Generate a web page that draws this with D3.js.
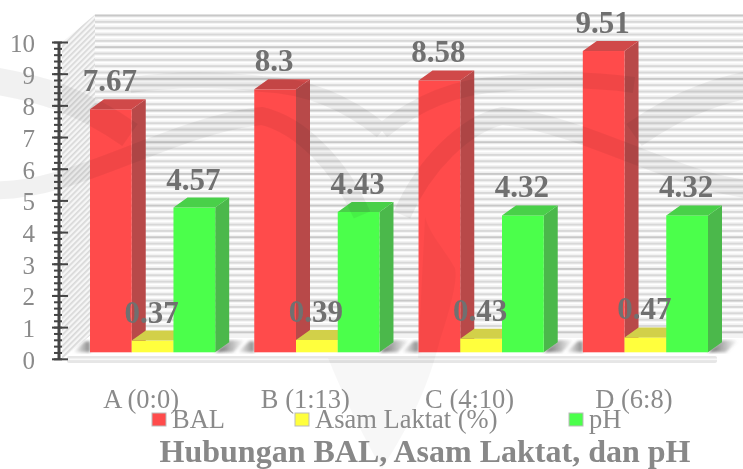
<!DOCTYPE html>
<html>
<head>
<meta charset="utf-8">
<style>
  html, body { margin: 0; padding: 0; background: #fff; }
  svg { display: block; }
  text { font-family: "Liberation Serif", serif; }
</style>
</head>
<body>
<svg id="chart"></svg>
<script src="https://cdn.jsdelivr.net/npm/d3@7/dist/d3.min.js"></script>
<script>
  const categories = ['A (0:0)', 'B (1:13)', 'C (4:10)', 'D (6:8)']
  const bal = [7.67, 8.3, 8.58, 9.51]
  const asamLaktat = [0.37, 0.39, 0.43, 0.47]
  const ph = [4.57, 4.43, 4.32, 4.32]
  const seriesNames = ['BAL', 'Asam Laktat (%)', 'pH']
  const title = 'Hubungan BAL, Asam Laktat, dan pH'

  const width = 743, height = 469

  const colors = [
    {front: '#ff4b4b', side: '#b84848', top: '#d04a4a'},
    {front: '#ffff3c', side: '#c8c83c', top: '#d2d048'},
    {front: '#4bff4b', side: '#4bb84b', top: '#48d048'}
  ]

  const svg = d3.select('#chart').attr('width', width).attr('height', height)
  const defs = svg.append('defs')

  // axis scale, the bars sit 7px above it
  const y = d3.scaleLinear().domain([0, 10]).range([359.3, 42.5])
  const barShift = -7, depth = {x: 14, y: -10}, wall = {x: 95, y: -28}

  const xGroup = d3.scaleBand().domain(categories).range([90, 708]).paddingInner(0.2378).paddingOuter(0).align(0)
  const xSeries = d3.scaleBand().domain(d3.range(3)).range([0, xGroup.bandwidth()])

  // soft edges, the reference is a rescaled bitmap
  defs.append('filter').attr('id', 'soft').append('feGaussianBlur').attr('stdDeviation', 0.45)
  defs.append('filter').attr('id', 'softer').append('feGaussianBlur').attr('stdDeviation', 1.5)

  const hatch = defs.append('pattern').attr('id', 'hatch')
    .attr('width', 4).attr('height', 4)
    .attr('patternUnits', 'userSpaceOnUse')
    .attr('patternTransform', 'rotate(-45)')
  hatch.append('rect').attr('width', 4).attr('height', 4).attr('fill', '#f6f6f6')
  hatch.append('rect').attr('width', 4).attr('height', 1.7).attr('fill', '#d8d8d8')

  const shadow = defs.append('linearGradient').attr('id', 'shadow')
  shadow.append('stop').attr('offset', 0).attr('stop-color', '#666')
  shadow.append('stop').attr('offset', 1).attr('stop-color', '#666').attr('stop-opacity', 0)

  const shadowLeft = defs.append('linearGradient').attr('id', 'shadowLeft')
  shadowLeft.append('stop').attr('offset', 0).attr('stop-color', '#888').attr('stop-opacity', 0)
  shadowLeft.append('stop').attr('offset', 1).attr('stop-color', '#888')

  const plot = svg.append('g').attr('filter', 'url(#soft)')

  // back wall
  const wallTop = y(10) - 28, wallBottom = 338
  plot.append('rect').attr('x', wall.x).attr('y', wallTop)
    .attr('width', width - wall.x).attr('height', wallBottom - wallTop).attr('fill', '#f3f3f3')

  plot.selectAll('.grid').data(d3.range(0, 10.01, 0.2)).enter().append('rect')
    .attr('class', 'grid')
    .attr('x', wall.x).attr('width', width - wall.x)
    .attr('y', d => y(d) - 28).attr('height', 2)
    .attr('fill', (d, i) => i % 5 == 0 ? '#c8c8c8' : '#d8d8d8')
  plot.selectAll('.gridLight').data(d3.range(0.1, 10, 0.2)).enter().append('rect')
    .attr('class', 'gridLight')
    .attr('x', wall.x).attr('width', width - wall.x)
    .attr('y', d => y(d) - 28).attr('height', 1.5)
    .attr('fill', '#ffffff')

  // left wall
  plot.append('path')
    .attr('d', `M62,${y(10)}L${wall.x},${wallTop}V${y(0) - 28}L62,${y(0)}Z`)
    .attr('fill', 'url(#hatch)')

  // floor strip
  plot.append('rect').attr('x', 67).attr('y', 356).attr('width', 650).attr('height', 7)
    .attr('rx', 2).attr('fill', '#e6e6e6')
  plot.append('rect').attr('x', 67).attr('y', 358.5).attr('width', 650).attr('height', 1.6)
    .attr('fill', '#f8f8f8')

  // floor shadows
  const shadows = svg.append('g').attr('filter', 'url(#softer)')
  categories.forEach(c => {
    const x0 = xGroup(c), x1 = x0 + xGroup.bandwidth(), b = y(0) + barShift
    shadows.append('path').attr('d', `M${x1},${b}L${x1 + depth.x},${b + depth.y - 2}H${x1 + 30}L${x1 + 18},${b}Z`)
      .attr('fill', 'url(#shadow)')
    shadows.append('path').attr('d', `M${x0},${b}V${b - 11}H${x0 - 5}L${x0 - 17},${b}Z`)
      .attr('fill', 'url(#shadowLeft)')
  })

  const bars = svg.append('g').attr('filter', 'url(#soft)')

  // one 3d bar: side, front and top faces
  const series = [bal, asamLaktat, ph]
  function barFaces(g, value, s, cat) {
    const x0 = xGroup(cat) + xSeries(s), w = xSeries.bandwidth()
    const top = y(value) + barShift, bottom = y(0) + barShift
    g.append('path')
      .attr('d', `M${x0 + w},${top}l${depth.x},${depth.y}V${bottom + depth.y}L${x0 + w},${bottom}Z`)
      .attr('fill', colors[s].side)
    g.append('rect')
      .attr('x', x0).attr('y', top).attr('width', w).attr('height', bottom - top)
      .attr('fill', colors[s].front)
    g.append('path')
      .attr('d', `M${x0},${top}l${depth.x},${depth.y}h${w}l${-depth.x},${-depth.y}Z`)
      .attr('fill', colors[s].top)
  }

  categories.forEach((c, i) => {
    const g = bars.append('g')
    barFaces(g, bal[i], 0, c)
    barFaces(g, asamLaktat[i], 1, c)
    barFaces(g, ph[i], 2, c)
  })

  // watermark logo, mirrored around the middle of the page
  const mark = svg.append('g').attr('opacity', 0.05)
  const bands = [
    {d: 'M-10,80 C40,88 80,100 130,135', w: 27},
    {d: 'M-10,190 C70,195 170,125 262,116 C300,125 340,165 362,215', w: 18},
    {d: 'M130,85 C180,78 230,80 262,84 C310,86 350,105 382,131', w: 16}
  ]
  ;[1, -1].forEach(dir => {
    const side = mark.append('g').attr('transform', dir < 0 ? 'translate(764,0) scale(-1,1)' : null)
    side.selectAll('path').data(bands).enter().append('path')
      .attr('d', d => d.d).attr('fill', 'none')
      .attr('stroke', '#000')
      .attr('stroke-width', d => d.w)
  })
  svg.append('path')
    .attr('d', 'M328,358 C345,400 365,440 382,469 C400,440 425,400 440,340 C450,310 458,280 455,268 C445,250 430,235 425,217 L418,358Z')
    .attr('fill', '#000').attr('fill-opacity', 0.03)

  // y axis
  const axis = svg.append('g').attr('filter', 'url(#soft)')
  axis.append('line').attr('x1', 59).attr('x2', 59).attr('y1', y(10)).attr('y2', y(0))
    .attr('stroke', '#444').attr('stroke-width', 3)
  axis.selectAll('.minor').data(d3.range(0, 10.01, 0.2)).enter().append('line')
    .attr('x1', 54).attr('x2', 62)
    .attr('y1', d => y(d)).attr('y2', d => y(d))
    .attr('stroke', '#444').attr('stroke-width', 2)
  axis.selectAll('.major').data(d3.range(0, 11)).enter().append('line')
    .attr('x1', 52).attr('x2', 68)
    .attr('y1', d => y(d)).attr('y2', d => y(d))
    .attr('stroke', '#444').attr('stroke-width', 2)

  const labels = svg.append('g').attr('filter', 'url(#soft)')

  labels.selectAll('.tick').data(d3.range(0, 11)).enter().append('text')
    .attr('x', 35).attr('y', d => y(d) + 9.5)
    .attr('text-anchor', 'end')
    .attr('font-size', 25).attr('fill', '#8a8a8a')
    .text(d => d)

  // value labels
  categories.forEach((c, i) => {
    series.forEach((vals, s) => {
      labels.append('text')
        .attr('x', xGroup(c) + xSeries(s) + xSeries.bandwidth() / 2 - 1)
        .attr('y', y(vals[i]) + barShift - 18)
        .attr('text-anchor', 'middle')
        .attr('font-size', 31).attr('font-weight', 'bold').attr('fill', '#707070')
        .text(vals[i])
    })
  })

  // category labels
  labels.selectAll('.cat').data(categories).enter().append('text')
    .attr('x', d => xGroup(d) + xGroup.bandwidth() / 2 - 11.5)
    .attr('y', 408)
    .attr('text-anchor', 'middle')
    .attr('font-size', 26.5).attr('fill', '#8a8a8a')
    .text(d => d)

  // legend
  const legendX = d3.scaleOrdinal().domain(seriesNames).range([152, 295, 569])
  const legend = labels.selectAll('.legend').data(seriesNames).enter().append('g')
    .attr('transform', d => `translate(${legendX(d)},413)`)
  legend.append('rect').attr('width', 14).attr('height', 13)
    .attr('fill', (d, i) => colors[i].front).attr('stroke', '#bbb')
  legend.append('text').attr('x', 20).attr('y', 15)
    .attr('font-size', 26.5).attr('fill', '#8a8a8a')
    .text(d => d)

  labels.append('text')
    .attr('x', 425).attr('y', 462)
    .attr('text-anchor', 'middle')
    .attr('font-size', 32).attr('font-weight', 'bold').attr('fill', '#888')
    .text(title)
</script>
</body>
</html>
